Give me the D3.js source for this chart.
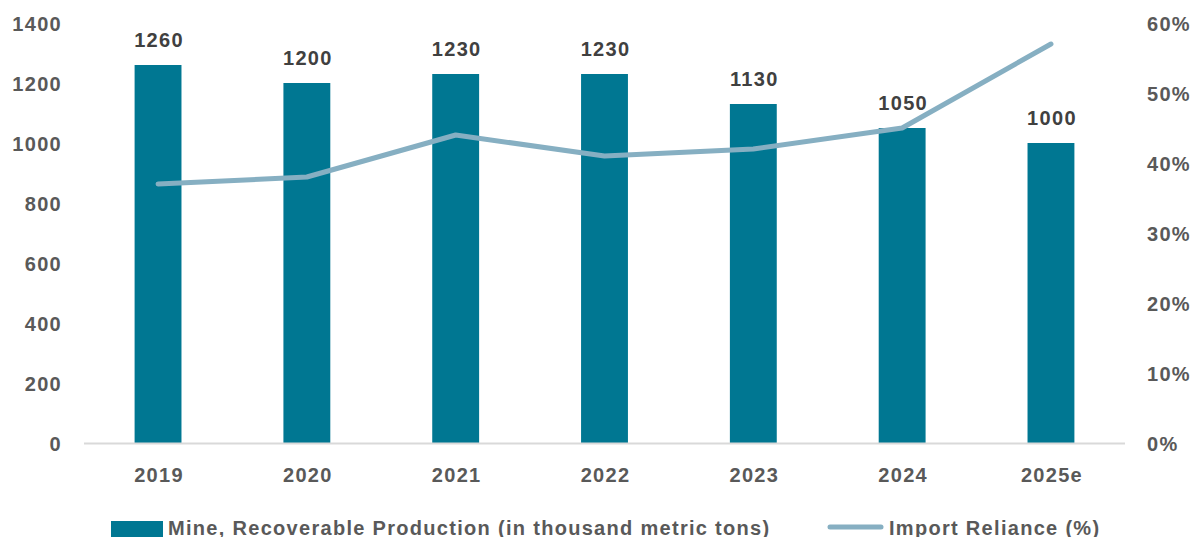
<!DOCTYPE html>
<html>
<head>
<meta charset="utf-8">
<script src="https://cdn.jsdelivr.net/npm/d3@7"></script>
<style>
  html, body { margin: 0; padding: 0; background: #fff; }
  svg { display: block; }
  text { font-family: "Liberation Sans", Arial, sans-serif; font-weight: bold; letter-spacing: 1.3px; }
</style>
</head>
<body>
<svg id="chart" width="1195" height="537"></svg>
<script>
// Production and import reliance by year
const years = ["2019", "2020", "2021", "2022", "2023", "2024", "2025e"];
const production = [1260, 1200, 1230, 1230, 1130, 1050, 1000];
const importReliance = [37, 38, 44, 41, 42, 45, 57];
const leftTicks = [0, 200, 400, 600, 800, 1000, 1200, 1400];
const rightTicks = [0, 10, 20, 30, 40, 50, 60];
const seriesNames = ["Mine, Recoverable Production (in thousand metric tons)", "Import Reliance (%)"];

const barColor = "#007792";
const lineColor = "#86AFC2";
const tickColor = "#595959";
const labelColor = "#404040";
const fontStack = "'Liberation Sans', Arial, sans-serif";

const svg = d3.select("#chart");
const plot = { left: 84, right: 1125, top: 23, bottom: 443 };

const x = d3.scaleBand().domain(years).range([plot.left, plot.right]).paddingInner(0.685).paddingOuter(0.34);
const yL = d3.scaleLinear().domain([0, 1400]).range([plot.bottom, plot.top]);
const yR = d3.scaleLinear().domain([0, 60]).range([plot.bottom, plot.top]);

// Bars
svg.append("g").selectAll("rect").data(years).join("rect")
  .attr("x", d => x(d))
  .attr("y", (d, i) => yL(production[i]))
  .attr("width", x.bandwidth())
  .attr("height", (d, i) => yL(0) - yL(production[i]))
  .attr("fill", barColor);

// Category axis baseline
svg.append("line")
  .attr("x1", plot.left).attr("x2", plot.right)
  .attr("y1", plot.bottom + 0.5).attr("y2", plot.bottom + 0.5)
  .attr("stroke", "#d9d9d9").attr("stroke-width", 2);

function styleAxis(g) {
  g.select(".domain").remove();
  g.selectAll("text").attr("fill", tickColor).style("font-size", "20px")
    .style("font-family", fontStack).attr("dy", "0.35em");
}

// Left axis
svg.append("g").attr("transform", `translate(${plot.left - 22},0)`)
  .call(d3.axisLeft(yL).tickValues(leftTicks).tickFormat(d3.format("d")).tickSize(0).tickPadding(0))
  .call(styleAxis);

// Right axis
svg.append("g").attr("transform", `translate(${plot.right + 22},0)`)
  .call(d3.axisRight(yR).tickValues(rightTicks).tickFormat(d => d + "%").tickSize(0).tickPadding(0))
  .call(styleAxis);

// Category labels
svg.append("g").attr("transform", `translate(1,${plot.bottom + 32})`)
  .call(d3.axisBottom(x).tickSize(0).tickPadding(0))
  .call(styleAxis);

// Import reliance line
const line = d3.line()
  .x((d, i) => x(years[i]) + x.bandwidth() / 2)
  .y(d => yR(d));
svg.append("path").datum(importReliance)
  .attr("d", line)
  .attr("fill", "none")
  .attr("stroke", lineColor)
  .attr("stroke-width", 5)
  .attr("stroke-linecap", "round")
  .attr("stroke-linejoin", "round");

// Bar value labels
svg.append("g").selectAll("text").data(years).join("text")
  .attr("x", d => x(d) + x.bandwidth() / 2 + 1)
  .attr("y", (d, i) => yL(production[i]) - 18)
  .attr("text-anchor", "middle")
  .attr("fill", labelColor)
  .style("font-size", "20px")
  .text((d, i) => production[i]);

// Legend
const lg = svg.append("g");
lg.append("rect").attr("x", 111).attr("y", 521).attr("width", 52).attr("height", 16).attr("fill", barColor);
lg.append("text").attr("x", 168).attr("y", 535).attr("fill", tickColor).style("font-size", "20px")
  .text(seriesNames[0]);
lg.append("line").attr("x1", 830).attr("x2", 881).attr("y1", 527).attr("y2", 527)
  .attr("stroke", lineColor).attr("stroke-width", 5).attr("stroke-linecap", "round");
lg.append("text").attr("x", 889).attr("y", 535).attr("fill", tickColor).style("font-size", "20px")
  .text(seriesNames[1]);
</script>
</body>
</html>
